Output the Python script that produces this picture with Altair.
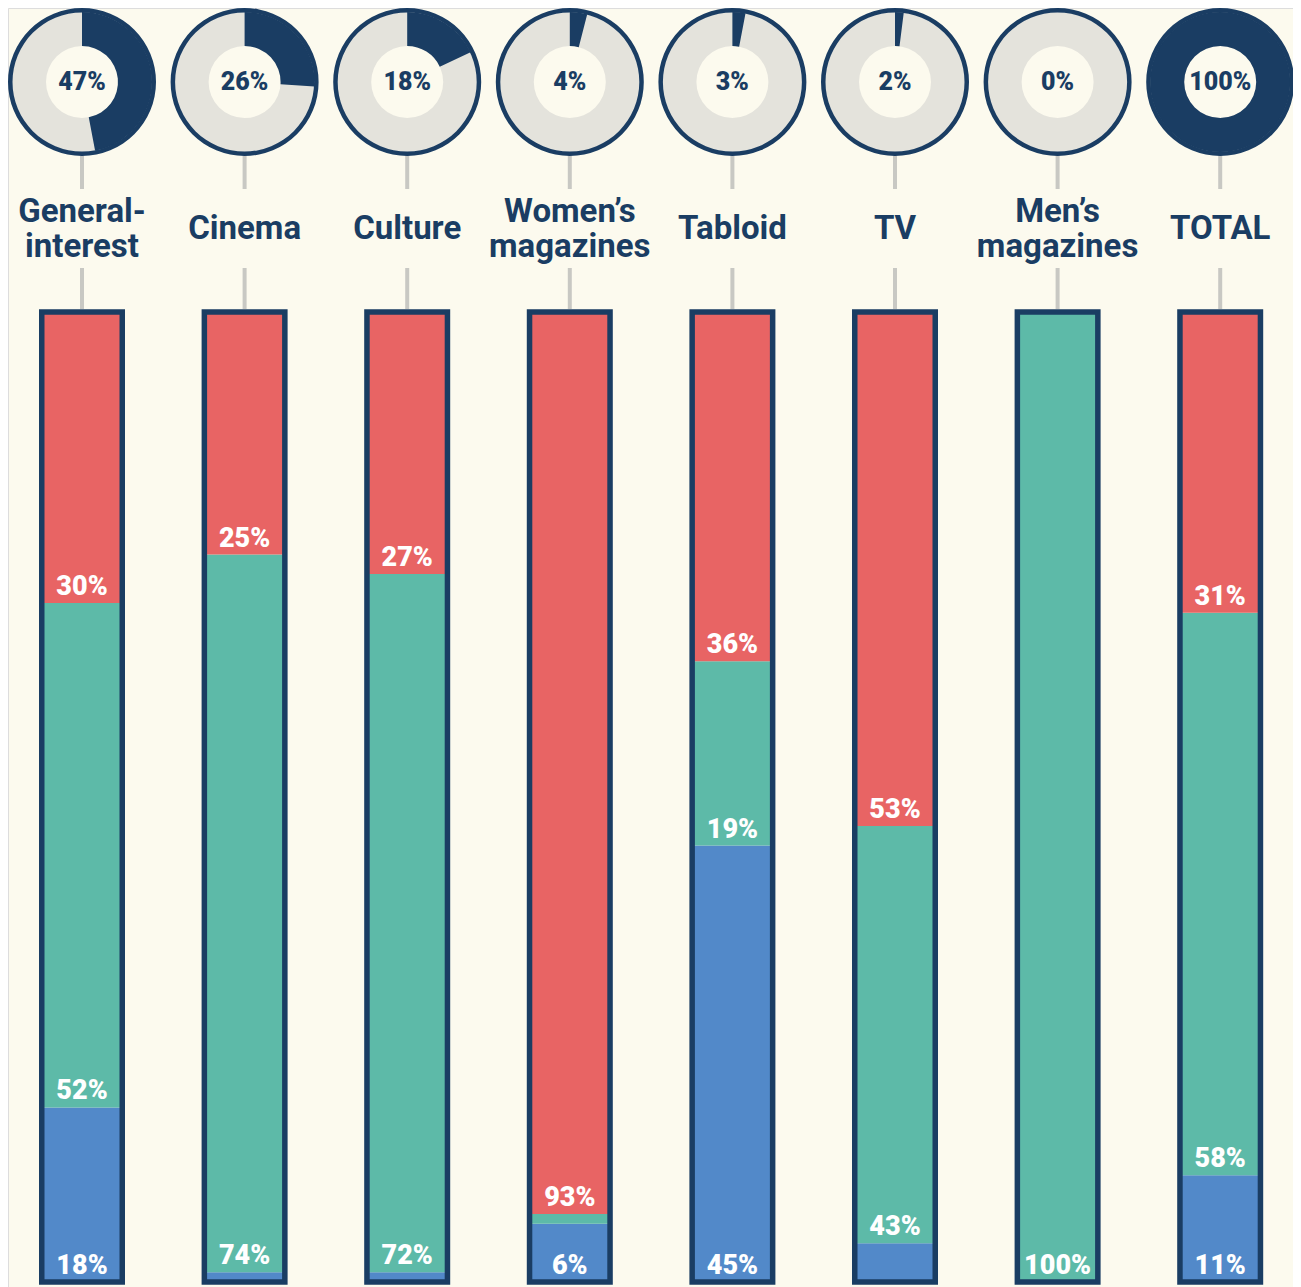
import math
import altair as alt
import pandas as pd

# ---------------- data ----------------
categories = ["General-\ninterest", "Cinema", "Culture", "Women’s\nmagazines",
              "Tabloid", "TV", "Men’s\nmagazines", "TOTAL"]
share = [47, 26, 18, 4, 3, 2, 0, 100]          # donut share
red = [30, 25, 27, 93, 36, 53, 0, 31]           # top segment
green = [52, 74, 72, 1, 19, 43, 100, 58]        # middle segment
blue = [18, 1, 1, 6, 45, 4, 0, 11]              # bottom segment

NAVY = "#1a3d63"
RING = "#e4e3dc"
GRAY = "#c8c8c3"
BG = "#fcfaee"
COLORS = {"blue": "#5289c9", "green": "#5dbaa8", "red": "#e86464"}

cat_df = pd.DataFrame({
    "idx": list(range(len(categories))),
    "name": categories,
    "share": share,
})
cat_df["t0"] = 0.0
cat_df["tfull"] = 2 * math.pi
cat_df["tv"] = cat_df["share"] / 100 * 2 * math.pi
cat_df["share_label"] = cat_df["share"].astype(str) + "%"
cat_df["lo"] = 0
cat_df["hi"] = 100
cat_df["two_lines"] = cat_df["name"].str.contains("\n")

rows = []
for i in range(len(categories)):
    base = 0
    for seg, vals in (("blue", blue), ("green", green), ("red", red)):
        v = vals[i]
        rows.append({"idx": i, "seg": seg, "value": v, "y0": base, "y1": base + v,
                     "label": f"{v}%"})
        base += v
seg_df = pd.DataFrame(rows)

# ---------------- scales ----------------
STEP = 162.6
W = 1285
H = 1279
x0 = -74 / STEP
xs = alt.Scale(domain=[x0, x0 + W / STEP], nice=False, zero=False, padding=0)
ys = alt.Scale(domain=[0, 100], range=[1274, 304], nice=False, zero=False, padding=0)
X = alt.X("idx:Q", scale=xs, axis=None, stack=None)

cat = alt.Chart(cat_df)
seg = alt.Chart(seg_df)

rule_top = cat.mark_rule(strokeWidth=4, color=GRAY).encode(
    x=X, y=alt.value(147), y2=alt.value(181))
rule_bot = cat.mark_rule(strokeWidth=4, color=GRAY).encode(
    x=X, y=alt.value(260), y2=alt.value(301))

donut_bg = cat.mark_arc(innerRadius=36, outerRadius=70, color=RING).encode(
    x=X, y=alt.value(74),
    theta=alt.Theta("t0:Q", scale=None, stack=None), theta2="tfull:Q")
donut_fg = cat.mark_arc(innerRadius=36, outerRadius=70, color=NAVY).encode(
    x=X, y=alt.value(74),
    theta=alt.Theta("t0:Q", scale=None, stack=None), theta2="tv:Q")
donut_ring = cat.mark_arc(innerRadius=69.5, outerRadius=74, color=NAVY).encode(
    x=X, y=alt.value(74),
    theta=alt.Theta("t0:Q", scale=None, stack=None), theta2="tfull:Q")
donut_txt = cat.mark_text(font="Roboto", fontSize=25, fontWeight=900,
                          color=NAVY, baseline="middle").encode(
    x=X, y=alt.value(74), text="share_label:N")

txt_style = dict(font="Roboto", fontSize=33, fontWeight="bold", color=NAVY,
                 baseline="middle", lineBreak="\n", lineHeight=35)
cat_txt1 = cat.transform_filter(~alt.datum.two_lines).mark_text(**txt_style).encode(
    x=X, y=alt.value(221), text="name:N")
cat_txt2 = cat.transform_filter(alt.datum.two_lines).mark_text(**txt_style).encode(
    x=X, y=alt.value(204), text="name:N")

bars = seg.mark_bar(size=80, orient="vertical").encode(
    x=X,
    y=alt.Y("y0:Q", scale=ys, axis=None),
    y2="y1:Q",
    color=alt.Color("seg:N", scale=alt.Scale(domain=list(COLORS.keys()),
                                             range=list(COLORS.values())),
                    legend=None),
)
outline = cat.mark_bar(size=80.5, filled=False, color=NAVY, strokeWidth=5.5,
                       orient="vertical").encode(
    x=X, y=alt.Y("lo:Q", scale=ys, axis=None), y2="hi:Q")
seg_txt = seg.transform_filter(alt.datum.value >= 5).mark_text(
    font="Roboto", fontSize=27, fontWeight=900, color="white",
    baseline="alphabetic", dy=-8).encode(
    x=X, y=alt.Y("y0:Q", scale=ys, axis=None), text="label:N")

chart = alt.layer(
    rule_top, rule_bot, donut_bg, donut_fg, donut_ring, donut_txt,
    cat_txt1, cat_txt2, bars, outline, seg_txt
).properties(
    width=W, height=H, padding=0,
    autosize=alt.AutoSizeParams(type="none"),
).configure_view(strokeWidth=0).configure(background=BG)

chart.save("out.html", embed_options={"renderer": "svg", "actions": False})
